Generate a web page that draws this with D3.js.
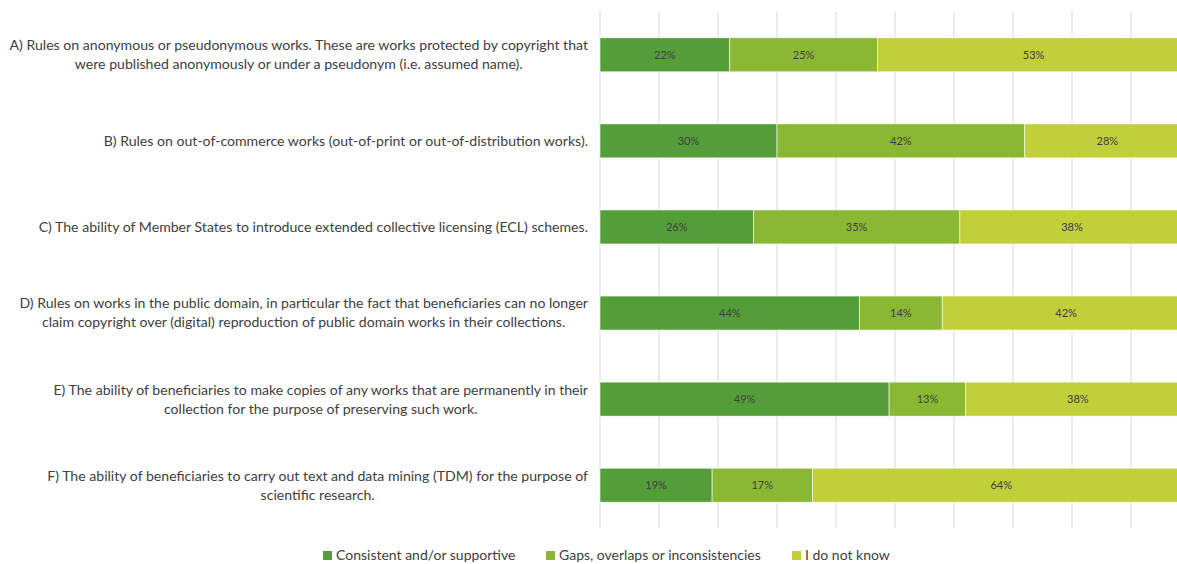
<!DOCTYPE html>
<html>
<head>
<meta charset="utf-8">
<script src="https://cdn.jsdelivr.net/npm/d3@7"></script>
<style>
  html, body { margin: 0; padding: 0; background: #fff; }
  svg { display: block; font-family: Lato, "Open Sans", sans-serif; }
</style>
</head>
<body>
<svg id="chart" width="1177" height="564"></svg>
<script>
// Survey question categories (lines are broken where the label wraps)
const categories = [
  "A) Rules on anonymous or pseudonymous works. These are works protected by copyright that\nwere published anonymously or under a pseudonym (i.e. assumed name).",
  "B) Rules on out-of-commerce works (out-of-print or out-of-distribution works).",
  "C) The ability of Member States to introduce extended collective licensing (ECL) schemes.",
  "D) Rules on works in the public domain, in particular the fact that beneficiaries can no longer\nclaim copyright over (digital) reproduction of public domain works in their collections.",
  "E) The ability of beneficiaries to make copies of any works that are permanently in their\ncollection for the purpose of preserving such work.",
  "F) The ability of beneficiaries to carry out text and data mining (TDM) for the purpose of\nscientific research."
];

const seriesNames = ["Consistent and/or supportive", "Gaps, overlaps or inconsistencies", "I do not know"];

// Share of answers (%) per category, in the same order as categories
const consistent   = [22, 30, 26, 44, 49, 19];
const gaps         = [25, 42, 35, 14, 13, 17];
const doNotKnow    = [53, 28, 38, 42, 38, 64];

const gridTicks = [0, 10, 20, 30, 40, 50, 60, 70, 80, 90, 100];

const colors = ["#549e39", "#8ab833", "#c0cf3a"];

const svg = d3.select("#chart");
const plot = { left: 600, right: 1190, top: 12, bottom: 528 };

const x = d3.scaleLinear().domain([0, 100]).range([plot.left, plot.right]);
const y = d3.scaleBand().domain(d3.range(categories.length))
  .range([plot.top, plot.bottom]).paddingInner(0.605).paddingOuter(0.3);

// vertical gridlines
svg.append("g")
  .selectAll("line")
  .data(gridTicks)
  .join("line")
  .attr("x1", d => x(d)).attr("x2", d => x(d))
  .attr("y1", plot.top).attr("y2", plot.bottom)
  .attr("stroke", "#d9d9d9").attr("stroke-width", 1);

// stack the three series
const rows = categories.map((c, i) => ({ i, s0: consistent[i], s1: gaps[i], s2: doNotKnow[i] }));
const stack = d3.stack().keys(["s0", "s1", "s2"]);
const layers = stack(rows);

const layerG = svg.append("g").selectAll("g")
  .data(layers)
  .join("g")
  .attr("fill", (d, k) => colors[k]);

layerG.selectAll("rect")
  .data(d => d)
  .join("rect")
  .attr("x", d => x(d[0]))
  .attr("width", d => x(d[1]) - x(d[0]))
  .attr("y", d => y(d.data.i))
  .attr("height", y.bandwidth())
  .attr("stroke", "#ffffff")
  .attr("stroke-width", 0.6);

// value labels centred in each segment
layerG.selectAll("text")
  .data(d => d)
  .join("text")
  .attr("x", d => (x(d[0]) + x(d[1])) / 2)
  .attr("y", d => y(d.data.i) + y.bandwidth() / 2)
  .attr("dy", "0.35em")
  .attr("text-anchor", "middle")
  .attr("font-size", 11)
  .attr("fill", "#404040")
  .text(d => (d[1] - d[0]) + "%");

// category labels: each wrapped block is right-aligned to the axis, lines centred in it
const labelRight = 588;
const lineH = 19;
const catG = svg.append("g");
categories.forEach((c, i) => {
  const lines = c.split("\n");
  const g = catG.append("g");
  const texts = lines.map(l => g.append("text")
    .attr("font-size", 14.1)
    .attr("fill", "#404040")
    .attr("text-anchor", "middle")
    .text(l));
  const maxW = d3.max(texts, t => t.node().getComputedTextLength());
  const cx = labelRight - maxW / 2;
  const cy = y(i) + y.bandwidth() / 2;
  texts.forEach((t, j) => {
    t.attr("x", cx)
     .attr("y", cy + (j - (lines.length - 1) / 2) * lineH)
     .attr("dy", "0.35em");
  });
});

// legend
const legendX = [323, 546, 792];
const legend = svg.append("g");
seriesNames.forEach((name, k) => {
  legend.append("rect")
    .attr("x", legendX[k]).attr("y", 551)
    .attr("width", 9).attr("height", 9)
    .attr("fill", colors[k]);
  legend.append("text")
    .attr("x", legendX[k] + 13).attr("y", 555.5)
    .attr("dy", "0.35em")
    .attr("font-size", 14)
    .attr("fill", "#404040")
    .text(name);
});
</script>
</body>
</html>
